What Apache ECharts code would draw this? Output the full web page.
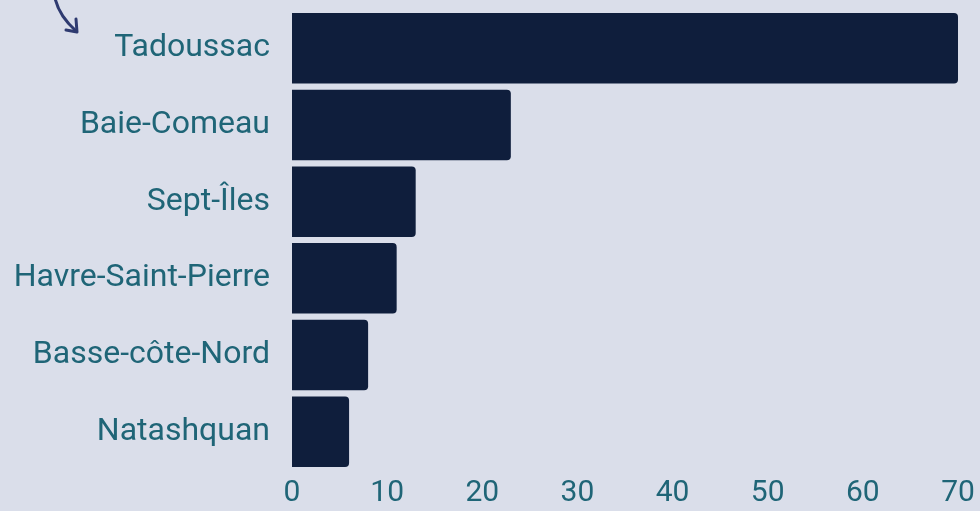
<!DOCTYPE html>
<html>
<head>
    <meta charset="utf-8">
    <title>ECharts</title>
    <script src="https://cdn.jsdelivr.net/npm/echarts@6/dist/echarts.min.js"></script>
    <style>
        html, body { margin: 0; padding: 0; background: #dadeea; }
        #main { width: 980px; height: 511px; }
    </style>
</head>
<body>
<div id="main"></div>
<script type="text/javascript">
    // categories, top to bottom
    var villes = ['Tadoussac', 'Baie-Comeau', 'Sept-Îles', 'Havre-Saint-Pierre', 'Basse-côte-Nord', 'Natashquan'];
    var valeurs = [70, 23, 13, 11, 8, 6];
    var ticks = [0, 10, 20, 30, 40, 50, 60, 70];

    var myChart = echarts.init(document.getElementById('main'));

    var option = {
        backgroundColor: '#dadeea',
        animation: false,
        grid: {
            left: 292,
            right: 22,
            top: 10,
            bottom: 41,
            containLabel: false
        },
        xAxis: {
            type: 'value',
            min: ticks[0],
            max: ticks[ticks.length - 1],
            interval: 10,
            splitLine: { show: false },
            axisLine: { show: false },
            axisTick: { show: false },
            axisLabel: {
                color: '#1f6577',
                fontFamily: 'Roboto',
                fontSize: 30,
                margin: 8
            }
        },
        yAxis: {
            type: 'category',
            inverse: true,
            data: villes,
            axisLine: { show: false },
            axisTick: { show: false },
            axisLabel: {
                color: '#1f6577',
                fontFamily: 'Roboto',
                fontSize: 32,
                margin: 22
            }
        },
        // petite flèche en haut à gauche
        graphic: [{
            type: 'bezierCurve',
            shape: { x1: 55, y1: -2, cpx1: 58, cpy1: 12, cpx2: 66, cpy2: 22, x2: 76, y2: 31 },
            style: { stroke: '#2e3a70', lineWidth: 3, fill: null, lineCap: 'round' }
        }, {
            type: 'polyline',
            shape: { points: [[66, 30], [77, 32], [76, 19]] },
            style: { stroke: '#2e3a70', lineWidth: 3, fill: null, lineCap: 'round', lineJoin: 'round' }
        }],
        series: [{
            type: 'bar',
            data: valeurs,
            barCategoryGap: '8%',
            itemStyle: {
                color: '#0f1e3c',
                borderRadius: [0, 4, 4, 0]
            }
        }]
    };

    myChart.setOption(option);
</script>
</body>
</html>
